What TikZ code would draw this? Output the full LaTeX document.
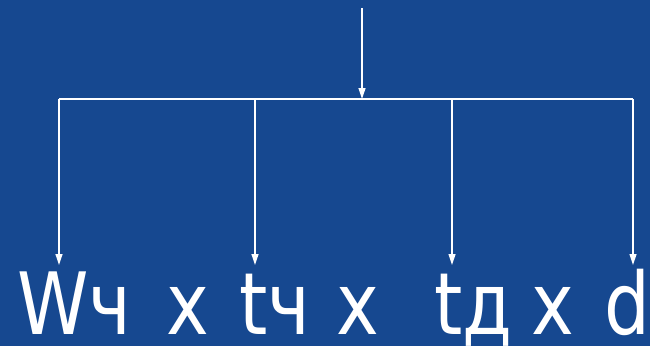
\documentclass[tikz,border=0pt]{standalone}
\usepackage{fontspec}
\setmainfont{DejaVu Sans}
\newfontfamily\narrowfont[FakeStretch=0.84]{DejaVu Sans}
\usetikzlibrary{arrows.meta}
\definecolor{bg}{RGB}{22,72,144}
\tikzset{
  conn/.style={draw=white, line width=1.2pt},
  arr/.style={conn, -{Triangle[width=7pt,length=11pt]}},
  word/.style={anchor=base west, inner sep=0pt, text=white,
    font=\narrowfont\fontsize{86}{90}\selectfont}
}
\begin{document}
\begin{tikzpicture}[x=1pt,y=-1pt]
\fill[bg] (0,0) rectangle (650,346);
\useasboundingbox (0,0) rectangle (650,346);
% text
\node[word] (formula) at (17,334) {\makebox[149pt][l]{Wч}\makebox[73pt][l]{x}\makebox[97pt][l]{tч}\makebox[98pt][l]{x}\makebox[97pt][l]{tд}\makebox[73pt][l]{x}d};
% connectors
\coordinate (top) at (362,8);
\coordinate (hub) at (362,99);
\coordinate (h1) at (59,99);
\coordinate (h2) at (255,99);
\coordinate (h3) at (452,99);
\coordinate (h4) at (633,99);
\coordinate (e1) at (59,265);
\coordinate (e2) at (255,265);
\coordinate (e3) at (452,265);
\coordinate (e4) at (633,265);
\draw[arr] (top) -- (hub);
\draw[conn] (h1) -- (h4);
\draw[arr] (h1) -- (e1);
\draw[arr] (h2) -- (e2);
\draw[arr] (h3) -- (e3);
\draw[arr] (h4) -- (e4);
\end{tikzpicture}
\end{document}
